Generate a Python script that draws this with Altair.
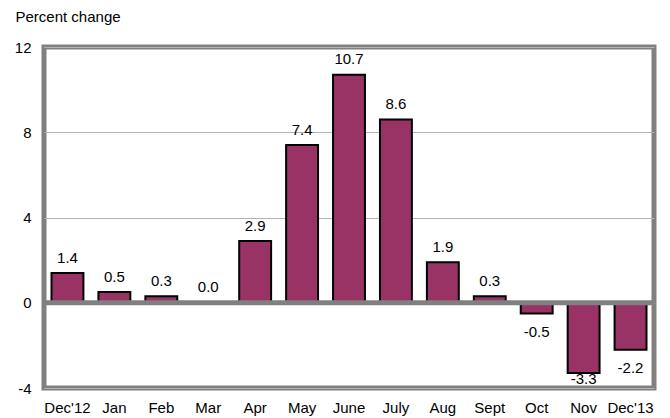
import altair as alt
import pandas as pd

months = ["Dec'12", "Jan", "Feb", "Mar", "Apr", "May", "June", "July",
          "Aug", "Sept", "Oct", "Nov", "Dec'13"]
values = [1.4, 0.5, 0.3, 0.0, 2.9, 7.4, 10.7, 8.6, 1.9, 0.3, -0.5, -3.3, -2.2]
y_ticks = [-4, 0, 4, 8, 12]

df = pd.DataFrame({"month": months, "value": values})

FONT = "Liberation Sans"
FS = 15

x = alt.X("month:N", sort=months, title=None,
          scale=alt.Scale(paddingInner=0.32, paddingOuter=0.16),
          axis=alt.Axis(labelAngle=0, ticks=False, domain=False, labelPadding=12,
                        labelFontSize=FS, labelColor="#000", labelFont=FONT))
y_scale = alt.Scale(domain=[-4, 12], nice=False)

base = alt.Chart(df)

bars = base.mark_bar(color="#993366", stroke="#000", strokeWidth=2).encode(
    x=x,
    y=alt.Y("value:Q", scale=y_scale,
            axis=alt.Axis(values=y_ticks, ticks=False, domain=False, grid=True,
                          gridColor="#b3b3b3", gridWidth=1, labelPadding=13,
                          labelExpr="replace(datum.label, '\u2212', '-')",
                          labelFontSize=FS, labelColor="#000", labelFont=FONT,
                          title="Percent change", titleAngle=0, titleAlign="left",
                          titleBaseline="middle", titleX=-29, titleY=-31,
                          titleFontSize=FS, titleFontWeight="normal",
                          titleColor="#000", titleFont=FONT)),
    y2=alt.datum(0),
)

labels = base.transform_calculate(
    ly="datum.value >= 0 ? datum.value + 0.72 : max(datum.value - 0.85, -3.6)",
    txt="replace(format(datum.value, '.1f'), '\u2212', '-')",
).mark_text(fontSize=FS, font=FONT, color="#000", baseline="middle").encode(
    x=alt.X("month:N", sort=months),
    y=alt.Y("ly:Q", scale=y_scale),
    text="txt:N",
)

zero = alt.Chart(pd.DataFrame({"z": [0]})).mark_rule(
    color="#808080", strokeWidth=5).encode(y=alt.Y("z:Q", scale=y_scale))

chart = alt.layer(bars, zero, labels).properties(
    width=610, height=341,
    padding={"left": 36, "top": 39, "right": 8, "bottom": 30},
    autosize=alt.AutoSizeParams(type="none"),
).configure_view(stroke="#808080", strokeWidth=5)

chart.save("out.html", embed_options={"renderer": "svg", "actions": False})
